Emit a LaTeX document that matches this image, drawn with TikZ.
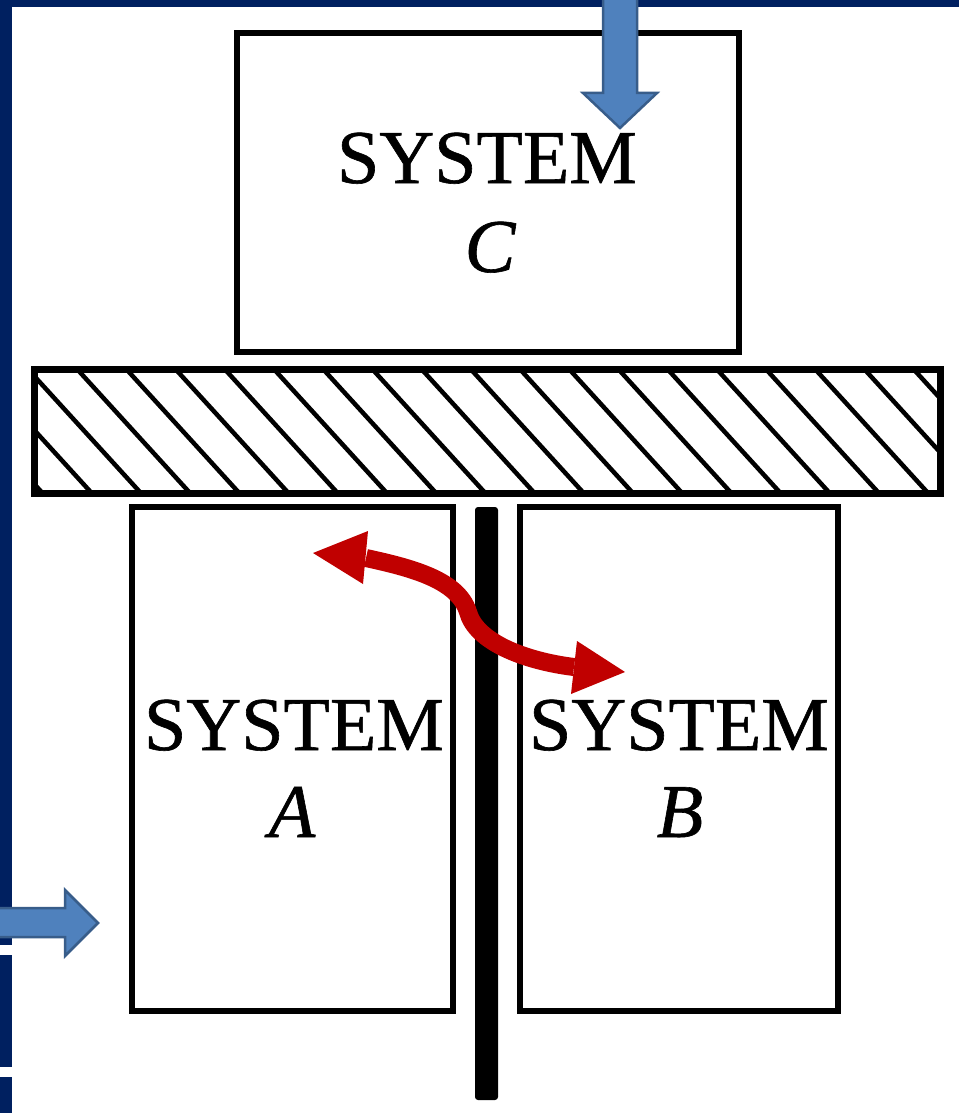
\documentclass[tikz,border=0pt]{standalone}
\usepackage{fontspec}
\setmainfont[FakeBold=0.8]{Liberation Serif}
\definecolor{navy}{HTML}{002060}
\definecolor{bluefill}{HTML}{4F81BD}
\definecolor{blueline}{HTML}{385D8A}
\definecolor{darkred}{HTML}{C00000}
\begin{document}
\begin{tikzpicture}[x=1pt,y=-1pt,
  sysbox/.style={draw=black, line width=5.5pt, rectangle, inner sep=0pt, outer sep=0pt},
  lbl/.style={inner sep=0pt, anchor=base, font=\fontsize{76}{90}\selectfont},
  bluearrow/.style={fill=bluefill, draw=blueline, line width=2.5pt, line join=miter},
  hatchline/.style={line width=4.5pt, black}]
\useasboundingbox (0,0) rectangle (959,1113);
\fill[white] (0,0) rectangle (959,1113);
% navy frame
\fill[navy] (0,0) rectangle (959,7);
\fill[navy] (0,0) rectangle (12,945);
\fill[navy] (0,955) rectangle (12,1067);
\fill[navy] (0,1077) rectangle (12,1113);
% boxes
\node[sysbox, minimum width=502pt, minimum height=319pt] (C) at (488,192.5) {};
\node[sysbox, minimum width=321pt, minimum height=504pt] (A) at (292.5,759) {};
\node[sysbox, minimum width=318pt, minimum height=504pt] (B) at (679,759) {};
% hatched wall
\begin{scope}
  \clip (34,369) rectangle (940,493);
  \foreach \k in {-3,...,19} {
    \draw[hatchline] (77+49.2*\k,369) -- ++(113,124);
  }
\end{scope}
\node[draw=black, line width=7pt, minimum width=906pt, minimum height=124pt, inner sep=0pt, outer sep=0pt] (wall) at (487,431) {};
% black partition
\fill[black, rounded corners=3pt] (475,507) rectangle (498,1100);
% labels
\node[lbl] (tC1) at (487,183) {SYSTEM};
\node[lbl] (tC2) at (490,272) {\itshape C};
\node[lbl] (tA1) at (294,750) {SYSTEM};
\node[lbl] (tA2) at (292,837) {\itshape A};
\node[lbl] (tB1) at (679,750) {SYSTEM};
\node[lbl] (tB2) at (680,837) {\itshape B};
% blue arrows
\draw[bluearrow] (603,-5) -- (603,93) -- (583,93) -- (620,128) -- (657,93) -- (637,93) -- (637,-5) -- cycle;
\draw[bluearrow] (-5,908) -- (65,908) -- (65,890) -- (98,923) -- (65,956) -- (65,937) -- (-5,937) -- cycle;
% red double arrow
\coordinate (lb) at (366,558);
\coordinate (rb) at (574,667);
\coordinate (mid) at (468,612);
\draw[darkred, line width=18pt] (lb) .. controls (412,568) and (458,580) .. (mid) .. controls (476,642) and (525,661) .. (rb);
\fill[darkred] (313,553) -- (368,531) -- (363,584) -- cycle;
\fill[darkred] (625,672) -- (577,641) -- (571,694) -- cycle;
\end{tikzpicture}
\end{document}
